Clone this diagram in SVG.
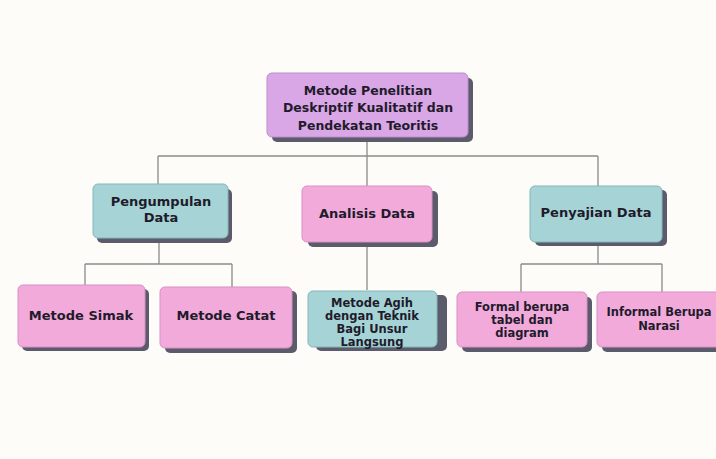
<svg xmlns="http://www.w3.org/2000/svg" width="716" height="459" viewBox="0 0 716 459">
<style>
.sh{fill:#5b5b6b}
.pk{fill:#f2aadb;stroke:#d98fc4;stroke-width:1}
.tl{fill:#a6d3d5;stroke:#86b7ba;stroke-width:1}
.pu{fill:#d9a6e6;stroke:#bf8ccd;stroke-width:1}
text{font-family:"DejaVu Sans","Open Sans",sans-serif;font-weight:700;font-size:13px;fill:#1f1b2b;text-anchor:middle;dominant-baseline:central}
.s{font-size:11.5px}
.t{font-size:12.5px}
.c{fill:none;stroke:#8a8a8a;stroke-width:1.3}
</style>
<rect width="716" height="459" fill="#fdfcf9"/>
<g id="connectors" class="c">
<path class="c" d="M367 140V156M158 156H598M158 156V185M367 156V187M598 156V187"/>
<path class="c" d="M159 241V264M85 264H232M85 264V286M232 264V288"/>
<path class="c" d="M367 245V290"/>
<path class="c" d="M598 246V264M521 264H662M521 264V293M662 264V293"/>
</g>
<g id="n0"><rect class="sh" x="272" y="78" width="201" height="64" rx="5"/><rect class="pu" x="267" y="73" width="201" height="64" rx="5"/><text class="t" x="368" y="90">Metode Penelitian</text><text class="t" x="368" y="107.5">Deskriptif Kualitatif dan</text><text class="t" x="368" y="125">Pendekatan Teoritis</text></g>
<g id="n1"><rect class="sh" x="97" y="189" width="135" height="54" rx="5"/><rect class="tl" x="93" y="184" width="135" height="54" rx="5"/><text x="161" y="201">Pengumpulan</text><text x="161" y="217">Data</text></g>
<g id="n2"><rect class="sh" x="308" y="191" width="130" height="56" rx="5"/><rect class="pk" x="302" y="186" width="130" height="56" rx="5"/><text x="367" y="213">Analisis Data</text></g>
<g id="n3"><rect class="sh" x="535" y="190" width="132" height="56" rx="5"/><rect class="tl" x="530" y="186" width="132" height="56" rx="5"/><text x="596" y="212">Penyajian Data</text></g>
<g id="n4"><rect class="sh" x="22" y="289" width="127" height="62" rx="5"/><rect class="pk" x="18" y="285" width="127" height="62" rx="5"/><text x="81" y="315">Metode Simak</text></g>
<g id="n5"><rect class="sh" x="165" y="291" width="132" height="62" rx="5"/><rect class="pk" x="160" y="287" width="132" height="61" rx="5"/><text x="226" y="315">Metode Catat</text></g>
<g id="n6"><rect class="sh" x="316" y="295" width="131" height="56" rx="5"/><rect class="tl" x="308" y="291" width="129" height="56" rx="5"/><text class="s" x="372" y="302.5">Metode Agih</text><text class="s" x="372" y="315.5">dengan Teknik</text><text class="s" x="372" y="328.5">Bagi Unsur</text><text class="s" x="372" y="341.5">Langsung</text></g>
<g id="n7"><rect class="sh" x="462" y="297" width="130" height="55" rx="5"/><rect class="pk" x="457" y="292" width="130" height="55" rx="5"/><text class="s" x="522" y="307">Formal berupa</text><text class="s" x="522" y="320">tabel dan</text><text class="s" x="522" y="333">diagram</text></g>
<g id="n8"><rect class="sh" x="602" y="297" width="130" height="55" rx="5"/><rect class="pk" x="597" y="292" width="130" height="55" rx="5"/><text class="s" x="659" y="312">Informal Berupa</text><text class="s" x="659" y="326">Narasi</text></g>
</svg>
